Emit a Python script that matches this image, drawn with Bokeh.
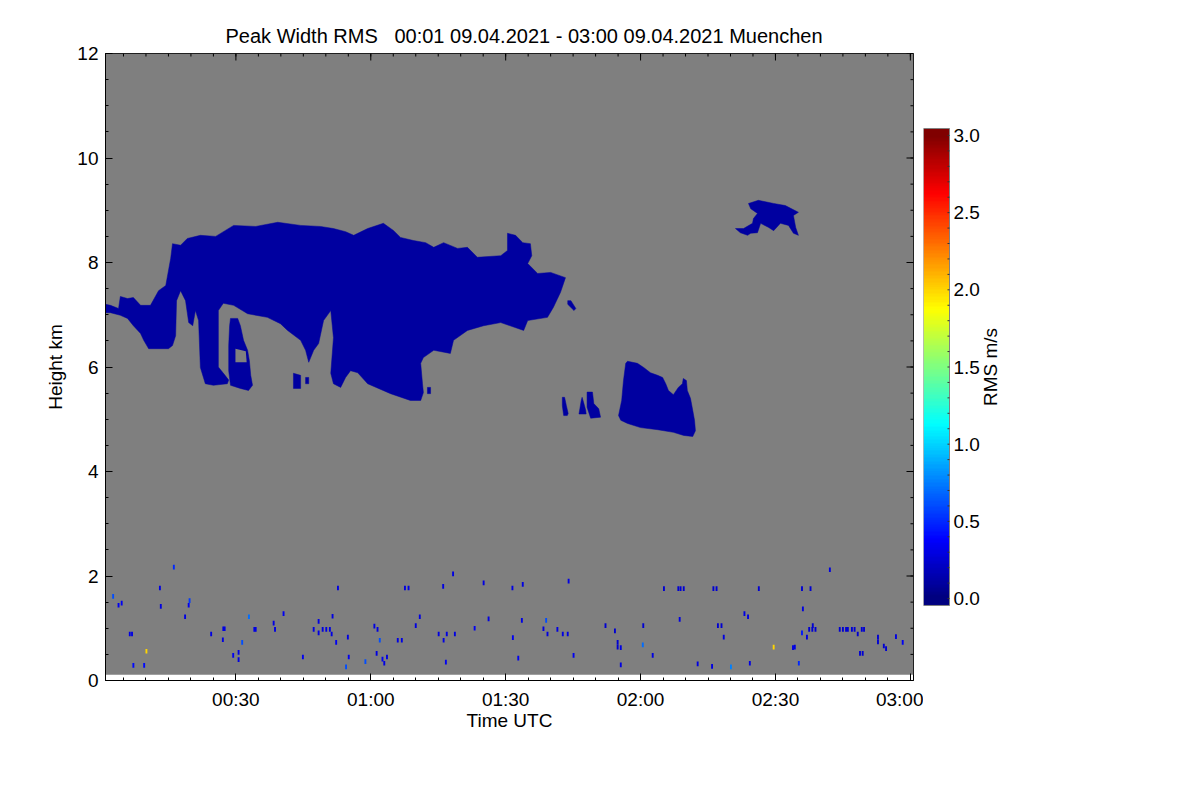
import numpy as np
from bokeh.plotting import figure
from bokeh.models import Range1d, LinearAxis, FixedTicker, LinearColorMapper, ColumnDataSource, Title
from bokeh.layouts import row
from bokeh.transform import linear_cmap
from bokeh.embed import file_html
from bokeh.resources import INLINE
from bokeh.core.properties import value

FONT = "Liberation Sans"
FS = "19px"

# ---------------- data ----------------
title_text = "Peak Width RMS\u00a0\u00a0 00:01 09.04.2021 - 03:00 09.04.2021 Muenchen"
t_start, t_end = 1.0, 180.7          # minutes after 00:00 UTC
h_min, h_max = 0.11, 12.0            # km, range of radar gates
x_ticks = [30, 60, 90, 120, 150, 180]
x_tick_labels = ["00:30", "01:00", "01:30", "02:00", "02:30", "03:00"]
y_ticks = [0, 2, 4, 6, 8, 10, 12]
cbar_ticks = [0.0, 0.5, 1.0, 1.5, 2.0, 2.5, 3.0]
rms_low, rms_high = 0.0, 3.0

# main cloud outline (time in minutes, height in km)
main_t = [1.0, 2.1, 3.9, 4.3, 5.9, 7.2, 8.8, 11.0, 12.8, 14.4, 15.5, 15.9, 17.7, 19.2, 22.1, 25.5,
          29.5, 34.4, 39.3, 44.4, 48.8, 51.7, 54.4, 56.2, 59.3, 62.8, 65.1, 66.6, 69.5, 72.2, 74.0,
          76.2, 79.3, 81.5, 83.7, 88.9, 90.4, 90.4, 92.2, 93.8, 95.5, 95.8, 94.9, 97.1, 100.0, 103.3,
          102.2, 100.6, 99.3, 94.9, 94.0, 88.9, 85.1, 81.5, 78.4, 77.7, 74.0, 71.7, 71.1, 71.5, 71.7,
          71.1, 68.8, 64.4, 59.3, 57.1, 55.5, 54.4, 53.3, 51.7, 51.1, 51.7, 51.1, 49.5, 48.4, 47.3,
          46.2, 45.5, 44.4, 41.5, 39.9, 37.0, 32.6, 29.5, 27.2, 26.1, 26.1, 27.5, 28.4, 28.1, 25.0,
          23.2, 22.1, 21.7, 21.0, 20.4, 19.5, 18.8, 17.7, 16.8, 16.6, 15.9, 15.0, 10.6, 9.5, 8.8,
          7.2, 5.9, 4.3, 2.1, 1.0]
main_h = [7.20, 7.18, 7.12, 7.35, 7.31, 7.33, 7.18, 7.18, 7.46, 7.56, 8.08, 8.36, 8.33, 8.46, 8.52, 8.50,
          8.71, 8.69, 8.77, 8.71, 8.69, 8.65, 8.59, 8.52, 8.65, 8.75, 8.61, 8.48, 8.42, 8.38, 8.29,
          8.38, 8.27, 8.29, 8.10, 8.13, 8.23, 8.56, 8.52, 8.38, 8.36, 8.13, 7.98, 7.79, 7.81, 7.71,
          7.43, 7.14, 6.95, 6.89, 6.70, 6.85, 6.79, 6.70, 6.51, 6.26, 6.32, 6.18, 6.07, 5.68, 5.51,
          5.36, 5.36, 5.49, 5.68, 5.89, 5.93, 5.80, 5.61, 5.68, 5.88, 6.56, 7.08, 6.89, 6.45, 6.32,
          6.09, 6.32, 6.51, 6.70, 6.83, 6.95, 7.02, 7.18, 7.22, 7.08, 6.00, 5.85, 5.75, 5.68, 5.65,
          5.68, 5.99, 6.89, 7.08, 6.79, 6.85, 7.27, 7.46, 7.27, 6.60, 6.41, 6.35, 6.35, 6.51, 6.64,
          6.79, 6.93, 6.99, 7.04, 7.04]
main_rms = 0.10

lobe_t = [28.8, 30.4, 31.0, 31.7, 32.6, 33.0, 33.3, 33.7, 32.8, 31.0, 28.8, 28.4, 28.4, 28.6]
lobe_h = [6.93, 6.93, 6.79, 6.51, 6.32, 6.12, 5.84, 5.65, 5.55, 5.59, 5.65, 5.93, 6.41, 6.79]
lobe_rms = 0.10

hole_t = [29.9, 32.2, 32.4, 29.9]
hole_h = [6.35, 6.30, 6.09, 6.09]

blob_a_t = [42.8, 44.4, 44.4, 42.8]
blob_a_h = [5.88, 5.84, 5.59, 5.59]
blob_b_t = [45.5, 46.2, 46.2, 45.5]
blob_b_h = [5.80, 5.80, 5.68, 5.68]
blob_c_t = [72.6, 73.3, 73.3, 72.6]
blob_c_h = [5.61, 5.61, 5.49, 5.49]
frag_t = [103.8, 104.5, 105.6, 105.2, 103.8]
frag_h = [7.27, 7.27, 7.12, 7.08, 7.20]

cell2_t = [117.1, 119.3, 120.7, 122.2, 123.8, 124.9, 125.6, 126.2, 127.3, 128.4, 129.3, 129.5, 130.2,
           130.4, 131.1, 131.6, 132.0, 132.2, 131.6, 129.6, 127.3, 123.8, 120.0, 117.1, 115.6, 115.1,
           115.8, 116.2, 116.7]
cell2_h = [6.11, 6.07, 5.99, 5.89, 5.84, 5.80, 5.68, 5.55, 5.47, 5.61, 5.68, 5.78, 5.74,
           5.55, 5.40, 5.17, 4.98, 4.78, 4.67, 4.69, 4.75, 4.80, 4.84, 4.92, 4.98, 5.07,
           5.36, 5.74, 6.07]
cell2_rms = 0.10

small_f_t = [102.6, 103.1, 103.5, 103.9, 103.7, 102.9, 102.6]
small_f_h = [5.42, 5.42, 5.26, 5.11, 5.07, 5.07, 5.26]
small_g_t = [107.0, 107.4, 107.8, 107.9, 106.3, 106.5, 106.8]
small_g_h = [5.42, 5.30, 5.17, 5.10, 5.10, 5.20, 5.36]
small_h_t = [108.1, 109.3, 109.6, 110.7, 111.1, 108.9, 108.1]
small_h_h = [5.52, 5.52, 5.30, 5.20, 5.04, 5.02, 5.23]

upper_t = [144.0, 146.2, 149.6, 152.2, 155.1, 154.0, 154.5, 155.1, 154.0, 152.9, 151.1, 149.6, 148.5,
           146.7, 146.0, 144.5, 143.8, 142.2, 141.1, 142.9, 144.9, 145.1, 146.0, 144.5]
upper_h = [9.13, 9.19, 9.13, 9.09, 8.96, 8.90, 8.67, 8.52, 8.56, 8.71, 8.75, 8.61, 8.67,
           8.75, 8.57, 8.56, 8.52, 8.57, 8.65, 8.65, 8.75, 8.84, 8.94, 9.03]
upper_rms = 0.10

# isolated low-level returns (time min, height km, RMS m/s)
spk_t = [2.7, 3.9, 4.6, 6.4, 6.9, 7.2, 9.6, 10.1, 13.1, 13.3, 16.2, 18.7, 19.5, 19.7, 24.5, 27.2, 27.5,
         27.1, 29.4, 30.6, 30.6, 31.4, 32.9, 34.1, 34.4, 38.4, 38.7, 40.6, 44.9, 47.3, 48.4, 48.4, 49.3,
         50.1, 50.9, 51.5, 51.3, 52.3, 52.7, 54.9, 54.5, 55.1, 58.8, 60.8, 61.5, 62.0, 61.3, 62.6, 63.0,
         63.6, 66.0, 66.9, 67.6, 68.4, 70.0, 70.9, 75.1, 76.2, 76.9, 78.7, 76.1, 76.7, 78.3, 83.1, 85.1,
         86.2, 91.5, 91.6, 92.8, 93.6, 93.8, 98.4, 99.0, 99.3, 101.5, 102.7, 103.8, 104.0, 105.1,
         112.2, 114.3, 114.9, 114.9, 115.6, 115.6, 120.6, 120.5, 122.7, 125.2, 128.4, 128.9, 129.6,
         128.7, 132.7, 135.9, 136.2, 136.9, 137.2, 138.0, 138.5, 140.1, 143.1, 143.9, 144.3, 146.3,
         149.6, 153.9, 154.3, 155.2, 155.9, 157.8, 156.1, 155.9, 157.0, 157.5, 158.2, 158.9, 158.3,
         162.1, 164.3, 165.0, 165.7, 166.1, 167.0, 167.6, 168.3, 169.2, 169.7, 168.8, 169.4, 172.8,
         172.8, 174.1, 174.6, 176.8, 178.3]
spk_h = [1.61, 1.44, 1.48, 0.89, 0.89, 0.29, 0.29, 0.56, 1.77, 1.42, 2.17, 1.22, 1.44, 1.53, 0.89, 0.99, 0.99,
         0.78, 0.48, 0.54, 0.40, 0.73, 1.22, 0.98, 0.98, 1.10, 0.98, 1.28, 0.45, 0.98, 1.13, 0.91, 0.98,
         0.98, 0.98, 1.23, 0.89, 0.73, 1.77, 0.83, 0.26, 0.45, 0.36, 1.04, 0.98, 0.77, 0.52, 0.41, 0.33,
         0.45, 0.77, 0.77, 1.77, 1.77, 1.05, 1.22, 0.89, 0.77, 0.89, 0.89, 1.80, 0.35, 2.04, 1.00, 1.87,
         1.18, 1.77, 0.82, 0.43, 1.15, 1.84, 0.99, 1.15, 0.89, 0.98, 0.89, 0.89, 1.90, 0.48,
         1.05, 0.95, 0.64, 0.73, 0.63, 0.30, 1.05, 0.68, 0.48, 1.76, 1.76, 1.76, 1.76,
         1.17, 0.32, 0.27, 1.76, 1.76, 1.05, 1.05, 0.83, 0.26, 1.28, 1.22, 0.33, 1.76,
         0.64, 0.63, 0.64, 0.33, 1.76, 1.76, 1.37, 0.91, 0.83, 0.98, 0.98, 0.98, 1.05,
         2.12, 0.98, 0.98, 0.98, 0.98, 0.98, 0.98, 0.89, 0.98, 0.98, 0.52, 0.52, 0.74,
         0.83, 0.66, 0.61, 0.84, 0.73]
spk_v = [0.60, 0.35, 0.35, 0.30, 0.30, 0.40, 0.40, 2.00, 0.30, 0.30, 0.50, 0.30, 0.35, 0.55, 0.30, 0.30, 0.30,
         0.30, 0.35, 0.30, 0.30, 0.60, 0.70, 0.30, 0.30, 0.30, 0.30, 0.35, 0.35, 0.30, 0.30, 0.30, 0.30,
         0.30, 0.30, 0.30, 0.30, 0.35, 0.30, 0.30, 0.60, 0.35, 0.60, 0.30, 0.30, 0.60, 0.30, 0.35, 0.30,
         0.30, 0.30, 0.30, 0.30, 0.30, 0.30, 0.30, 0.30, 0.30, 0.30, 0.30, 0.30, 0.35, 0.30, 0.35, 0.30,
         0.30, 0.30, 0.35, 0.35, 0.30, 0.30, 0.30, 0.60, 0.30, 0.30, 0.30, 0.30, 0.30, 0.35,
         0.25, 0.25, 0.25, 0.25, 0.30, 0.30, 0.25, 0.70, 0.30, 0.25, 0.25, 0.25, 0.25,
         0.30, 0.30, 0.30, 0.25, 0.25, 0.25, 0.25, 0.30, 0.75, 0.30, 0.30, 0.30, 0.25,
         2.00, 0.30, 0.30, 0.50, 0.25, 0.25, 0.30, 0.45, 0.30, 0.25, 0.25, 0.25, 0.25,
         0.30, 0.25, 0.25, 0.25, 0.25, 0.25, 0.25, 0.25, 0.25, 0.25, 0.25, 0.25, 0.25,
         0.25, 0.25, 0.25, 0.30, 0.35]

# ---------------- colours ----------------
def jet(n=256):
    out = []
    for i in range(n):
        x = i / (n - 1)
        r = min(max(1.5 - abs(4 * x - 3), 0), 1)
        g = min(max(1.5 - abs(4 * x - 2), 0), 1)
        b = min(max(1.5 - abs(4 * x - 1), 0), 1)
        out.append("#%02x%02x%02x" % (int(r * 255 + .5), int(g * 255 + .5), int(b * 255 + .5)))
    return out

JET = jet()
GRAY = "#7f7f7f"
cmap = linear_cmap("v", JET, rms_low, rms_high)

BL, BT, BB, BR = 105, 53, 82, 10     # borders around the plot frame
FW, FH = 808, 627                    # frame size

# ---------------- main figure ----------------
p = figure(width=BL + FW + BR, height=BT + FH + BB, x_range=Range1d(t_start, t_end), y_range=Range1d(0, h_max),
           output_backend="svg", toolbar_location=None, x_axis_type=None, y_axis_type=None,
           min_border_left=BL, min_border_right=BR, min_border_top=BT, min_border_bottom=BB)
p.background_fill_color = "white"
p.border_fill_color = "white"
p.outline_line_color = "black"
p.grid.visible = False

p.title = Title(text=title_text, align="left", offset=120, text_font=FONT, text_font_size="20px",
                text_font_style="normal", text_color="black", standoff=13)

x_minor = [m for m in range(5, 181, 5)]
y_minor = [k * 0.5 for k in range(0, 25)]

def style_axis(ax):
    ax.major_tick_in = 7
    ax.major_tick_out = 0
    ax.minor_tick_in = 3
    ax.minor_tick_out = 0
    ax.axis_line_color = "black"
    ax.major_tick_line_color = "black"
    ax.minor_tick_line_color = "black"
    ax.major_label_text_font = FONT
    ax.major_label_text_color = "black"
    ax.major_label_text_font_size = FS
    ax.axis_label_text_font = FONT
    ax.axis_label_text_font_size = FS
    ax.axis_label_text_font_style = "normal"
    ax.axis_label_text_color = "black"

xb = LinearAxis(ticker=FixedTicker(ticks=x_ticks, minor_ticks=x_minor), axis_label="Time UTC",
                major_label_overrides={t: s for t, s in zip(x_ticks, x_tick_labels)})
style_axis(xb)
xb.major_label_standoff = 8
xb.axis_label_standoff = -3
p.add_layout(xb, "below")

yl = LinearAxis(ticker=FixedTicker(ticks=y_ticks, minor_ticks=y_minor), axis_label="Height km")
style_axis(yl)
yl.major_label_standoff = 7
yl.axis_label_standoff = 8
p.add_layout(yl, "left")

# data area (radar gates)
p.quad(left=[t_start], right=[t_end], bottom=[h_min], top=[h_max], fill_color=GRAY, line_color=None)

cloud_src = ColumnDataSource(dict(
    xs=[main_t, lobe_t, blob_a_t, blob_b_t, blob_c_t, frag_t, cell2_t, small_f_t, small_g_t, small_h_t, upper_t],
    ys=[main_h, lobe_h, blob_a_h, blob_b_h, blob_c_h, frag_h, cell2_h, small_f_h, small_g_h, small_h_h, upper_h],
    v=[main_rms, lobe_rms, 0.10, 0.10, 0.10, 0.10, cell2_rms, 0.10, 0.10, 0.10, upper_rms],
))
p.patches("xs", "ys", source=cloud_src, fill_color=cmap, line_color=cmap, line_width=0.5)
p.patches(xs=[hole_t], ys=[hole_h], fill_color=GRAY, line_color=None)

spk_src = ColumnDataSource(dict(t=spk_t, h=spk_h, v=spk_v))
p.rect("t", "h", width=0.42, height=0.09, source=spk_src, fill_color=cmap, line_color=None)

# ticks on the top and right edges of the box
p.ray(x=x_ticks, y=[h_max] * len(x_ticks), length=7, length_units="screen", angle=-np.pi / 2,
      line_color="black", line_width=1)
p.ray(x=x_minor, y=[h_max] * len(x_minor), length=3, length_units="screen", angle=-np.pi / 2,
      line_color="black", line_width=1)
p.ray(x=[t_end] * len(y_ticks), y=y_ticks, length=7, length_units="screen", angle=np.pi,
      line_color="black", line_width=1)
p.ray(x=[t_end] * len(y_minor), y=y_minor, length=3, length_units="screen", angle=np.pi,
      line_color="black", line_width=1)

# ---------------- colour bar ----------------
cb_lo, cb_hi = -0.045, 3.045          # extent of the coloured bar
cb_view = (-0.531, 3.531)             # frame range so the bar sits between y=128 and y=605
cb = figure(width=97, height=BT + FH + BB, x_range=Range1d(0, 87), y_range=Range1d(*cb_view),
            output_backend="svg", toolbar_location=None, x_axis_type=None, y_axis_type=None,
            min_border_left=0, min_border_right=10, min_border_top=BT, min_border_bottom=BB)
cb.outline_line_color = None
cb.background_fill_color = "white"
cb.border_fill_color = "white"

levels = np.linspace(cb_lo, cb_hi, 400).reshape(-1, 1)
cb.image(image=[levels], x=0, y=cb_lo, dw=26, dh=cb_hi - cb_lo,
         color_mapper=LinearColorMapper(palette=JET, low=rms_low, high=rms_high))
cb.quad(left=[0], right=[26], bottom=[cb_lo], top=[cb_hi], fill_color=None, line_color="#808080", line_width=1)
minor_cb = [k / 10 for k in range(0, 31)]
cb.segment(x0=[24] * len(minor_cb), x1=[26] * len(minor_cb), y0=minor_cb, y1=minor_cb,
           line_color="#333333", line_width=1)
cb.text(x=[30] * len(cbar_ticks), y=cbar_ticks, text=["%.1f" % v for v in cbar_ticks],
        text_font=value(FONT), text_font_size=FS, text_align="left", text_baseline="middle",
        text_color="black")
cb.text(x=[67], y=[1.5], text=["RMS m/s"], angle=np.pi / 2, text_font=value(FONT), text_font_size=FS,
        text_align="center", text_baseline="middle", text_color="black")

layout = row(p, cb)
open("out.html", "w").write(file_html(layout, INLINE))
